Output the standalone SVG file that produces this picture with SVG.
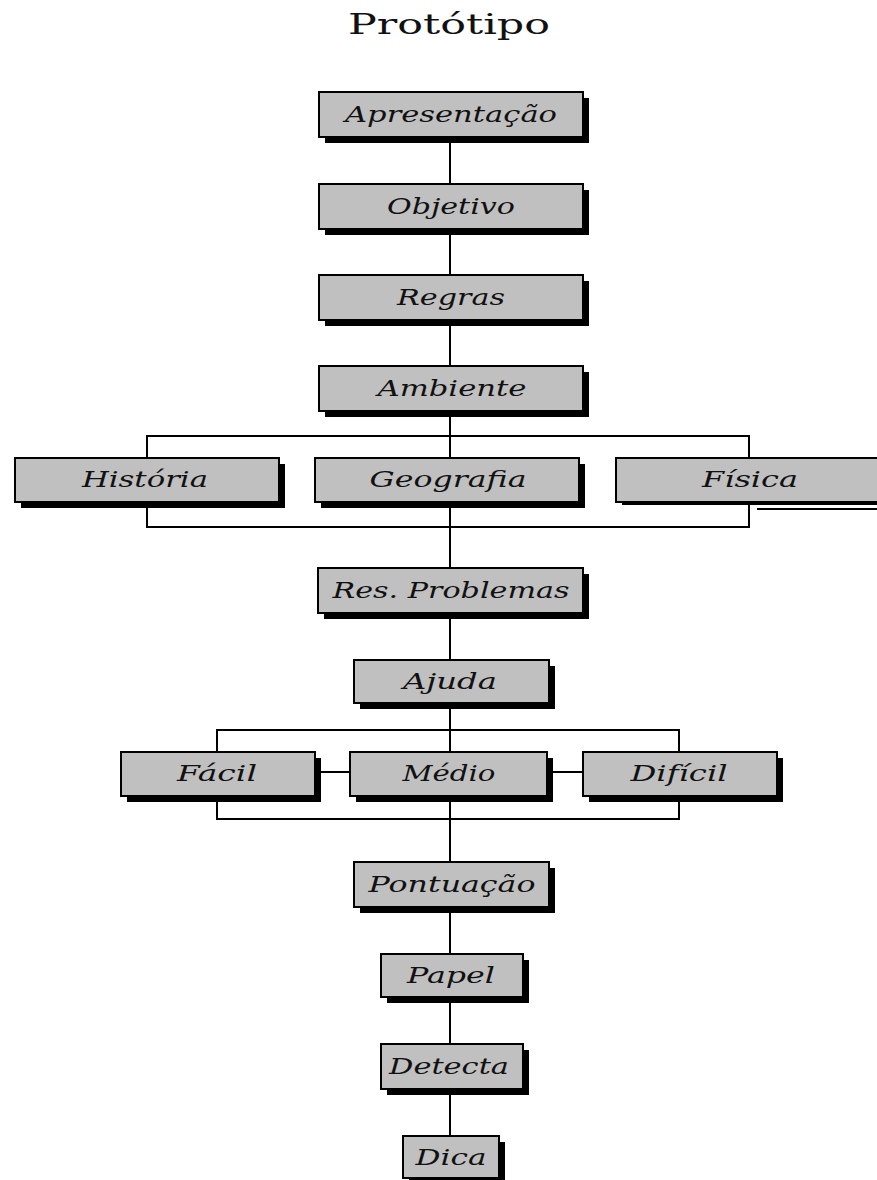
<svg xmlns="http://www.w3.org/2000/svg" width="877" height="1180" viewBox="0 0 877 1180">
<style>
.sh{fill:#000}
.bx{fill:#c0c0c0;stroke:#000;stroke-width:2}
.t{font-family:"DejaVu Serif","Liberation Serif",serif;font-style:italic;font-size:22px;fill:#111;text-anchor:middle}
.ttl{font-family:"DejaVu Serif","Liberation Serif",serif;font-size:28px;fill:#111;text-anchor:middle}
.c{fill:none;stroke:#000;stroke-width:2}
</style>
<rect width="877" height="1180" fill="#fff"/>
<text class="ttl" x="449" y="34" textLength="202" lengthAdjust="spacingAndGlyphs">Protótipo</text>
<g id="connectors">
<path class="c" d="M450 137V184M450 229V275M450 320V366M450 411V458M450 502V568M450 613V752M450 796V862M450 907V954M450 997V1044M450 1089V1136"/>
<path class="c" d="M147 458V436H749V458M147 502V527H749V502"/>
<path class="c" d="M217 752V730H679V752M217 796V819H679V796"/>
<path class="c" d="M315 772H350M547 772H583"/>
<path class="c" d="M757 509H877"/>
</g>
<g id="n-apresentacao"><rect class="sh" x="325" y="98" width="264" height="45"/><rect class="bx" x="319" y="92" width="264" height="45"/><text class="t" x="451" y="122" textLength="212" lengthAdjust="spacingAndGlyphs">Apresentação</text></g>
<g id="n-objetivo"><rect class="sh" x="325" y="190" width="264" height="45"/><rect class="bx" x="319" y="184" width="264" height="45"/><text class="t" x="451" y="214" textLength="128" lengthAdjust="spacingAndGlyphs">Objetivo</text></g>
<g id="n-regras"><rect class="sh" x="325" y="281" width="264" height="45"/><rect class="bx" x="319" y="275" width="264" height="45"/><text class="t" x="451" y="305" textLength="108" lengthAdjust="spacingAndGlyphs">Regras</text></g>
<g id="n-ambiente"><rect class="sh" x="325" y="372" width="264" height="45"/><rect class="bx" x="319" y="366" width="264" height="45"/><text class="t" x="452" y="396" textLength="149" lengthAdjust="spacingAndGlyphs">Ambiente</text></g>
<g id="n-historia"><rect class="sh" x="21" y="464" width="264" height="44"/><rect class="bx" x="15" y="458" width="264" height="44"/><text class="t" x="145" y="487" textLength="126" lengthAdjust="spacingAndGlyphs">História</text></g>
<g id="n-geografia"><rect class="sh" x="321" y="464" width="264" height="44"/><rect class="bx" x="315" y="458" width="264" height="44"/><text class="t" x="448" y="487" textLength="157" lengthAdjust="spacingAndGlyphs">Geografia</text></g>
<g id="n-fisica"><rect class="sh" x="622" y="464" width="264" height="41"/><rect class="bx" x="616" y="458" width="264" height="44"/><text class="t" x="750" y="487" textLength="96" lengthAdjust="spacingAndGlyphs">Física</text></g>
<g id="n-resproblemas"><rect class="sh" x="324" y="574" width="265" height="45"/><rect class="bx" x="318" y="568" width="265" height="45"/><text class="t" x="451" y="598" textLength="237" lengthAdjust="spacingAndGlyphs">Res. Problemas</text></g>
<g id="n-ajuda"><rect class="sh" x="360" y="666" width="195" height="43"/><rect class="bx" x="354" y="660" width="195" height="43"/><text class="t" x="450" y="689" textLength="94" lengthAdjust="spacingAndGlyphs">Ajuda</text></g>
<g id="n-facil"><rect class="sh" x="127" y="758" width="194" height="44"/><rect class="bx" x="121" y="752" width="194" height="44"/><text class="t" x="217" y="781" textLength="80" lengthAdjust="spacingAndGlyphs">Fácil</text></g>
<g id="n-medio"><rect class="sh" x="356" y="758" width="197" height="44"/><rect class="bx" x="350" y="752" width="197" height="44"/><text class="t" x="449" y="781" textLength="93" lengthAdjust="spacingAndGlyphs">Médio</text></g>
<g id="n-dificil"><rect class="sh" x="589" y="758" width="194" height="44"/><rect class="bx" x="583" y="752" width="194" height="44"/><text class="t" x="679" y="781" textLength="97" lengthAdjust="spacingAndGlyphs">Difícil</text></g>
<g id="n-pontuacao"><rect class="sh" x="360" y="868" width="195" height="45"/><rect class="bx" x="354" y="862" width="195" height="45"/><text class="t" x="452" y="892" textLength="167" lengthAdjust="spacingAndGlyphs">Pontuação</text></g>
<g id="n-papel"><rect class="sh" x="387" y="960" width="142" height="43"/><rect class="bx" x="381" y="954" width="142" height="43"/><text class="t" x="451" y="983" textLength="88" lengthAdjust="spacingAndGlyphs">Papel</text></g>
<g id="n-detecta"><rect class="sh" x="387" y="1050" width="142" height="45"/><rect class="bx" x="381" y="1044" width="142" height="45"/><text class="t" x="449" y="1074" textLength="120" lengthAdjust="spacingAndGlyphs">Detecta</text></g>
<g id="n-dica"><rect class="sh" x="409" y="1142" width="96" height="42"/><rect class="bx" x="403" y="1136" width="96" height="42"/><text class="t" x="451" y="1165" textLength="71" lengthAdjust="spacingAndGlyphs">Dica</text></g>
</svg>
